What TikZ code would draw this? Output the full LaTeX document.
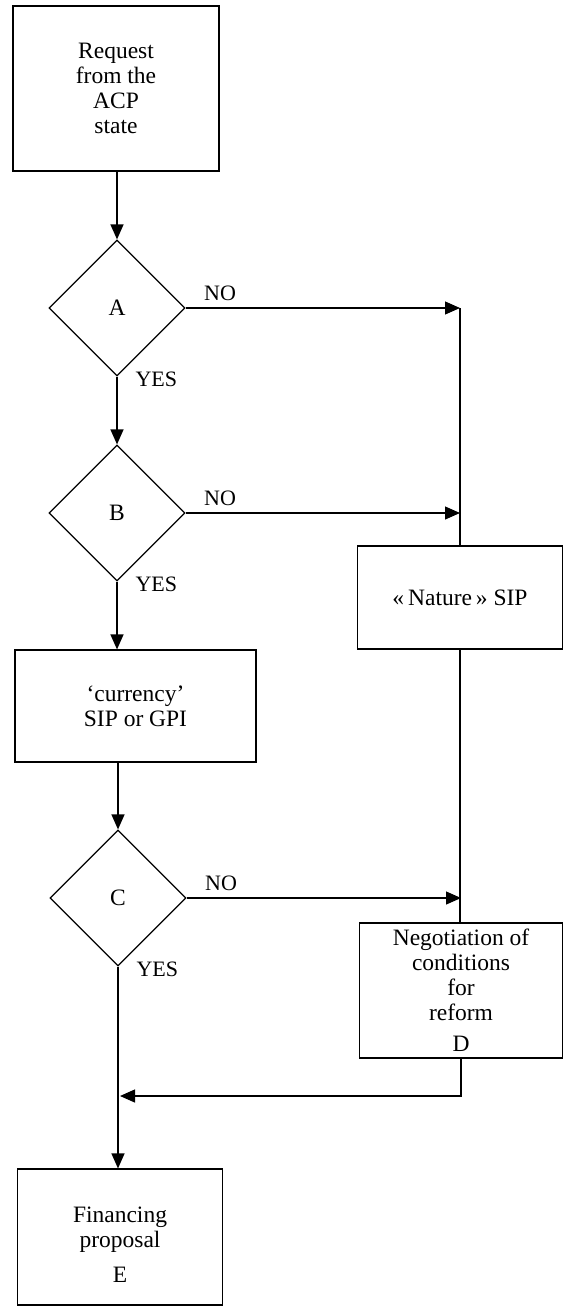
\documentclass[tikz,border=0pt]{standalone}
\usepackage{fontspec}
\setmainfont{Liberation Serif}
\usetikzlibrary{arrows.meta,shapes.geometric,calc}
\begin{document}
\begin{tikzpicture}[x=1pt,y=-1pt,line width=1.2pt,
  txtfont/.style={font=\fontsize{23.5}{25}\selectfont},
  box/.style={draw,line width=1.2pt,align=center,inner sep=0pt,txtfont},
  dia/.style={draw,diamond,aspect=1,minimum width=136pt,minimum height=136pt,inner sep=0pt,line width=1.2pt,txtfont},
  arr/.style={-{Triangle[length=15pt,width=13pt]}},
  lab/.style={inner sep=0pt,font=\fontsize{22}{24}\selectfont}]
\useasboundingbox (0,0) rectangle (564,1311);
% nodes
\node[box,minimum width=206pt,minimum height=165pt] (req) at (116,88.5) {Request\\from the\\ACP\\state};
\node[dia] (A) at (117,308) {A};
\node[dia] (B) at (117,513) {B};
\node[box,minimum width=241pt,minimum height=112pt] (cur) at (135.5,706) {‘currency’\\SIP or GPI};
\node[dia] (C) at (118,898) {C};
\node[box,minimum width=205pt,minimum height=103pt] (nat) at (460,597.5) {«\,Nature\,» SIP};
\node[box,minimum width=203pt,minimum height=135pt] (neg) at (461,990.5) {Negotiation of\\conditions\\for\\reform\\[6pt]D};
\node[box,minimum width=205pt,minimum height=136pt] (E) at (120,1237) {};
\node[inner sep=0pt,align=center,txtfont] (Etxt) at ([yshift=-8pt]E.center) {Financing\\proposal\\[10pt]E};
\coordinate (merge) at (120,1096);
% labels
\node[lab,anchor=west] (noA) at ([xshift=18pt,yshift=14.5pt]A.east) {NO};
\node[lab,anchor=west] (yesA) at ([xshift=18pt,yshift=-2.5pt]A.south) {YES};
\node[lab,anchor=west] (noB) at ([xshift=18pt,yshift=14.5pt]B.east) {NO};
\node[lab,anchor=west] (yesB) at ([xshift=18pt,yshift=-2.5pt]B.south) {YES};
\node[lab,anchor=west] (noC) at ([xshift=18pt,yshift=14.5pt]C.east) {NO};
\node[lab,anchor=west] (yesC) at ([xshift=18pt,yshift=-2.5pt]C.south) {YES};
% connectors
\draw[arr] (A.north |- req.south) -- (A.north);
\draw[arr] (A.south) -- (B.north);
\draw[arr] (B.south) -- (B.south |- cur.north);
\draw[arr] (C.north |- cur.south) -- (C.north);
\draw[arr] (A.east) -- (A.east -| nat.north);
\draw[arr] (B.east) -- (B.east -| nat.north);
\draw (A.east -| nat.north) -- (nat.north);
\draw (nat.south) -- (nat.south |- neg.north);
\draw[arr] (C.east) -- (C.east -| neg.north);
\draw[arr] (neg.south) |- (merge);
\draw[arr] (C.south) -- (C.south |- E.north);
\end{tikzpicture}
\end{document}
